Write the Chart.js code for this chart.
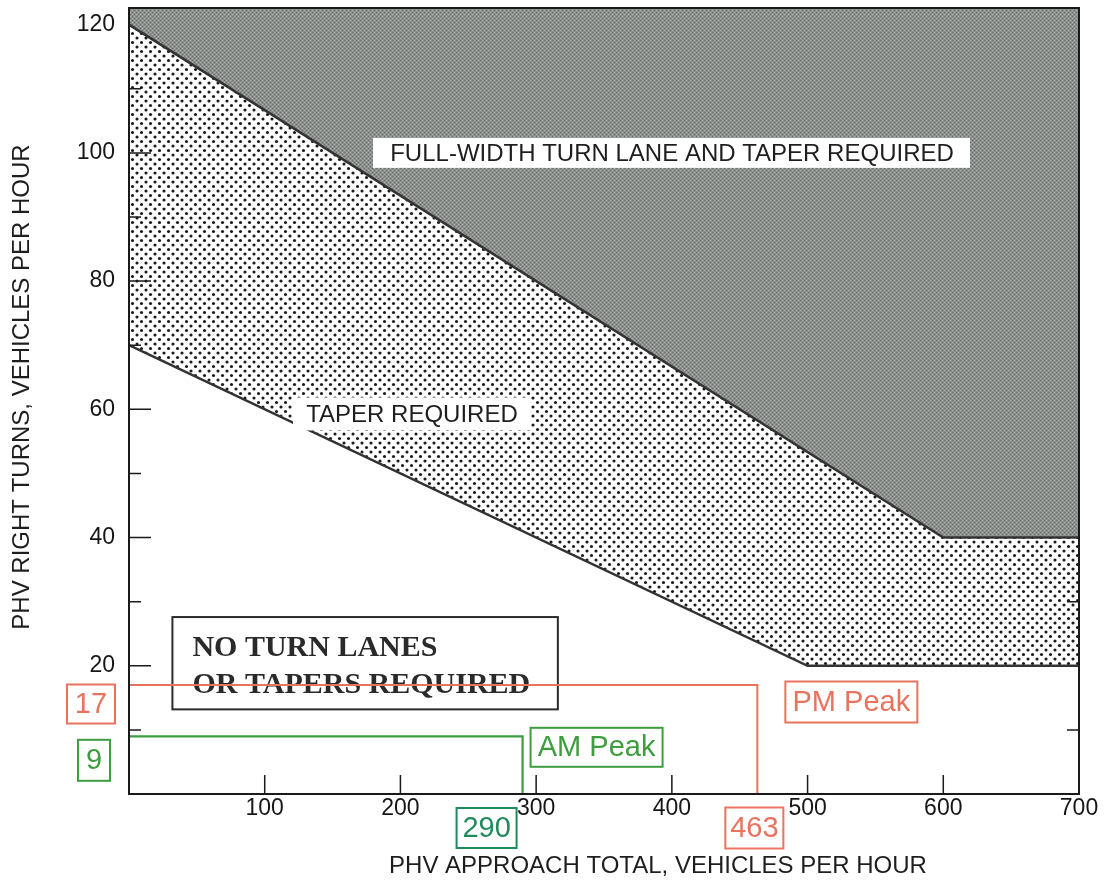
<!DOCTYPE html>
<html>
<head>
<meta charset="utf-8">
<script src="https://cdn.jsdelivr.net/npm/chart.js@4.4.1/dist/chart.umd.min.js"></script>
<style>
  html, body { margin: 0; padding: 0; background: #ffffff; }
  #wrap { position: relative; width: 1110px; height: 882px; background: #ffffff; }
</style>
</head>
<body>
<div id="wrap"><canvas id="c"></canvas></div>
<script>
// ---------------- data ----------------
const fullWidthX = [0, 600, 700];      // upper boundary (full-width turn lane)
const fullWidthY = [120, 40, 40];
const taperX = [0, 500, 700];          // lower boundary (taper)
const taperY = [70, 20, 20];
const pmPeakX = [0, 463, 463];
const pmPeakY = [17, 17, 0];
const amPeakX = [0, 290, 290];
const amPeakY = [9, 9, 0];
const xTickValues = [100, 200, 300, 400, 500, 600, 700];
const yTickValues = [20, 40, 60, 80, 100, 120];
const xMinorTicks = [100, 200, 300, 400, 500, 600];
const yMinorTicks = [10, 30, 50, 70, 90, 110];
const pmPeak = { total: 463, turns: 17, label: 'PM Peak' };
const amPeak = { total: 290, turns: 9, label: 'AM Peak' };

const xTitle = 'PHV APPROACH TOTAL, VEHICLES PER HOUR';
const yTitle = 'PHV RIGHT TURNS, VEHICLES PER HOUR';

const toPts = (xs, ys) => xs.map((x, i) => ({ x: x, y: ys[i] }));

// ---------------- patterns ----------------
function makeStipple() {
  const c = document.createElement('canvas');
  c.width = 9; c.height = 9;
  const g = c.getContext('2d');
  g.fillStyle = '#ffffff'; g.fillRect(0, 0, 9, 9);
  g.fillStyle = '#1b1b1b';
  g.beginPath(); g.arc(2, 2, 1.55, 0, Math.PI * 2); g.fill();
  g.beginPath(); g.arc(6.5, 6.5, 1.55, 0, Math.PI * 2); g.fill();
  return g.createPattern(c, 'repeat');
}
function makeDark() {
  const c = document.createElement('canvas');
  c.width = 4; c.height = 4;
  const g = c.getContext('2d');
  g.fillStyle = '#8b908c'; g.fillRect(0, 0, 4, 4);
  g.fillStyle = '#676c68';
  g.fillRect(0, 0, 1, 1); g.fillRect(2, 2, 1, 1);
  g.fillStyle = '#b0b5b1';
  g.fillRect(2, 0, 1, 1); g.fillRect(0, 2, 1, 1);
  return g.createPattern(c, 'repeat');
}

const SANS = '"Liberation Sans", Arial, Helvetica, sans-serif';
const SERIF = '"Liberation Serif", "Times New Roman", serif';
const PM_COLOR = '#e8735e';
const AM_COLOR = '#3d9d3f';
const AM_NUM_COLOR = '#1f8a5c';

function boxedText(ctx, text, cx, cy, w, h, color, font) {
  ctx.save();
  ctx.strokeStyle = color;
  ctx.lineWidth = 2;
  ctx.strokeRect(cx - w / 2, cy - h / 2, w, h);
  ctx.fillStyle = color;
  ctx.font = font;
  ctx.textAlign = 'center';
  ctx.textBaseline = 'middle';
  ctx.fillText(text, cx, cy + 1);
  ctx.restore();
}

const overlay = {
  id: 'overlay',
  beforeDatasetsDraw(chart) {
    const ctx = chart.ctx;
    const xs = chart.scales.x, ys = chart.scales.y;
    // "No turn lanes" box
    const left = xs.getPixelForValue(32), right = xs.getPixelForValue(316);
    const top = ys.getPixelForValue(27.6), bottom = ys.getPixelForValue(13.2);
    ctx.save();
    ctx.strokeStyle = '#2b2b2b';
    ctx.lineWidth = 2;
    ctx.strokeRect(left, top, right - left, bottom - top);
    ctx.fillStyle = '#2a2a2a';
    ctx.font = 'bold 30px ' + SERIF;
    ctx.textAlign = 'left';
    ctx.textBaseline = 'alphabetic';
    ctx.fillText('NO TURN LANES', left + 20, top + 39);
    ctx.fillText('OR TAPERS REQUIRED', left + 20, top + 76);
    ctx.restore();
  },
  afterDatasetsDraw(chart) {
    const ctx = chart.ctx;
    const a = chart.chartArea;
    const xs = chart.scales.x, ys = chart.scales.y;

    // white-backed region labels
    ctx.save();
    ctx.font = '24px ' + SANS;
    ctx.textAlign = 'center';
    ctx.textBaseline = 'middle';
    let cy = ys.getPixelForValue(100);
    ctx.fillStyle = '#ffffff';
    ctx.fillRect(373, cy - 15, 597, 30);
    ctx.fillStyle = '#1e1e1e';
    ctx.fillText('FULL-WIDTH TURN LANE AND TAPER REQUIRED', 672, cy + 1);
    cy = ys.getPixelForValue(59.2);
    ctx.fillStyle = '#ffffff';
    ctx.fillRect(293, cy - 17, 237, 33);
    ctx.fillStyle = '#1e1e1e';
    ctx.fillText('TAPER REQUIRED', 412, cy + 1);
    ctx.restore();

    // plot frame
    ctx.save();
    ctx.strokeStyle = '#1a1a1a';
    ctx.lineWidth = 2;
    ctx.strokeRect(a.left, a.top, a.right - a.left, a.bottom - a.top);
    // inward tick marks
    ctx.lineWidth = 1.5;
    ctx.beginPath();
    xMinorTicks.forEach(v => {
      const px = xs.getPixelForValue(v);
      ctx.moveTo(px, a.bottom); ctx.lineTo(px, a.bottom - 19);
    });
    yTickValues.forEach(v => {
      if (v >= 120) return;
      const py = ys.getPixelForValue(v);
      ctx.moveTo(a.left, py); ctx.lineTo(a.left + 22, py);
    });
    yMinorTicks.forEach(v => {
      const py = ys.getPixelForValue(v);
      ctx.moveTo(a.left, py); ctx.lineTo(a.left + 12, py);
      if (v < 40) { ctx.moveTo(a.right, py); ctx.lineTo(a.right - 12, py); }
    });
    ctx.stroke();
    ctx.restore();

    // peak annotations
    const pmx = xs.getPixelForValue(pmPeak.total), pmy = ys.getPixelForValue(pmPeak.turns);
    const amx = xs.getPixelForValue(amPeak.total), amy = ys.getPixelForValue(amPeak.turns);
    const f = '29px ' + SANS;
    boxedText(ctx, pmPeak.label, pmx + 94, pmy + 17, 132, 41, PM_COLOR, f);
    boxedText(ctx, amPeak.label, amx + 74, amy + 11, 132, 39, AM_COLOR, f);
    boxedText(ctx, String(pmPeak.turns), 91, pmy + 19, 48, 39, PM_COLOR, f);
    boxedText(ctx, String(amPeak.turns), 94, amy + 24, 32, 41, AM_COLOR, f);
    boxedText(ctx, String(amPeak.total), amx - 36, 828, 60, 40, AM_NUM_COLOR, f);
    boxedText(ctx, String(pmPeak.total), pmx - 3, 828, 58, 41, PM_COLOR, f);

    // axis titles
    ctx.save();
    ctx.fillStyle = '#1e1e1e';
    ctx.font = '24px ' + SANS;
    ctx.textAlign = 'center';
    ctx.textBaseline = 'middle';
    ctx.fillText(xTitle, 658, 866);
    ctx.translate(22, 387);
    ctx.rotate(-Math.PI / 2);
    ctx.fillText(yTitle, 0, 0);
    ctx.restore();
  }
};

const stipple = makeStipple();
const dark = makeDark();

new Chart(document.getElementById('c'), {
  type: 'line',
  data: {
    datasets: [
      {
        label: 'Taper boundary',
        data: toPts(taperX, taperY),
        borderColor: '#333333', borderWidth: 2.5,
        backgroundColor: stipple, fill: 'end',
        pointRadius: 0, tension: 0, order: 3
      },
      {
        label: 'Full-width boundary',
        data: toPts(fullWidthX, fullWidthY),
        borderColor: '#333333', borderWidth: 2.5,
        backgroundColor: dark, fill: 'end',
        pointRadius: 0, tension: 0, order: 2
      },
      {
        label: 'PM Peak',
        data: toPts(pmPeakX, pmPeakY),
        borderColor: PM_COLOR, borderWidth: 2,
        fill: false, pointRadius: 0, tension: 0, order: 1
      },
      {
        label: 'AM Peak',
        data: toPts(amPeakX, amPeakY),
        borderColor: AM_COLOR, borderWidth: 2.2,
        fill: false, pointRadius: 0, tension: 0, order: 0
      }
    ]
  },
  options: {
    responsive: true,
    maintainAspectRatio: false,
    animation: false,
    devicePixelRatio: 1,
    layout: { padding: { left: 0, right: 31, top: 8, bottom: 0 } },
    plugins: { legend: { display: false }, tooltip: { enabled: false } },
    scales: {
      x: {
        type: 'linear', min: 0, max: 700,
        grid: { display: false, drawTicks: false }, border: { display: false },
        afterBuildTicks: s => { s.ticks = xTickValues.map(v => ({ value: v })); },
        afterFit: s => { s.height = 88; s.paddingLeft = 0; s.paddingRight = 0; },
        ticks: { color: '#161616', padding: 1, maxRotation: 0, font: { family: SANS, size: 23 } }
      },
      y: {
        type: 'linear', min: 0, max: 122.6,
        grid: { display: false, drawTicks: false }, border: { display: false },
        afterBuildTicks: s => { s.ticks = yTickValues.map(v => ({ value: v })); },
        afterFit: s => { s.width = 129; s.paddingTop = 0; s.paddingBottom = 0; },
        ticks: { color: '#161616', padding: 14, font: { family: SANS, size: 23 } }
      }
    }
  },
  plugins: [overlay]
});
</script>
</body>
</html>
